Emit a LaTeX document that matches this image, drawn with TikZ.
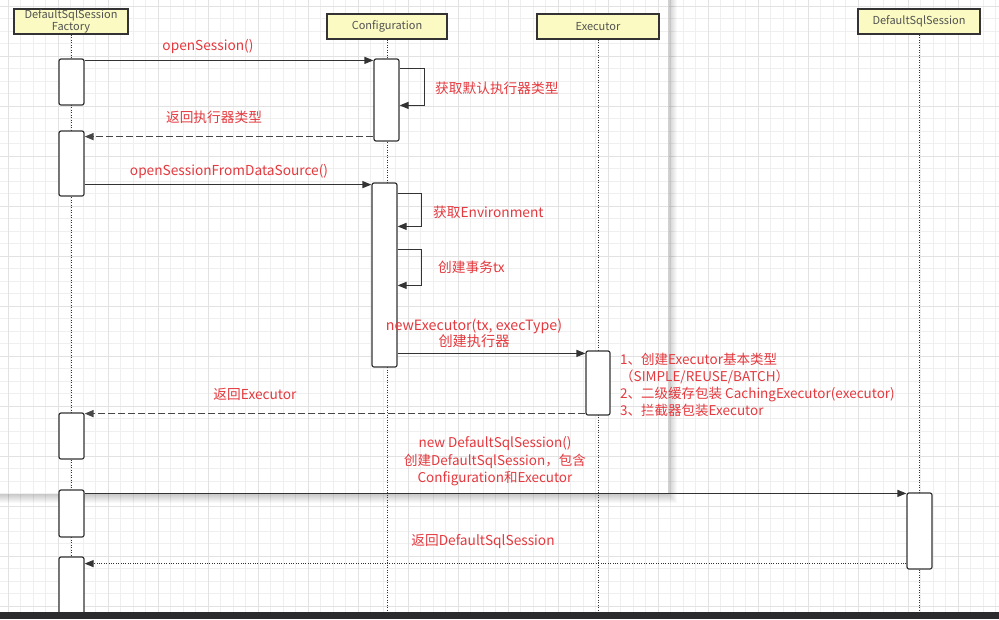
\documentclass[tikz,border=0pt]{standalone}
\usepackage{fontspec}
\setmainfont{Noto Sans CJK SC}
\usetikzlibrary{arrows.meta}
\definecolor{gridminor}{HTML}{EFEFEF}
\definecolor{gridmajor}{HTML}{E2E2E2}
\definecolor{headfill}{HTML}{FAFAC2}
\definecolor{ink}{HTML}{333333}
\definecolor{labelred}{HTML}{E4393E}
\definecolor{barcol}{HTML}{2B2B2D}
\tikzset{
  head/.style={draw=ink, line width=1.4pt, fill=headfill, inner sep=0pt,
    text=ink!85, font=\fontsize{11}{11.5}\selectfont, align=center},
  act/.style={draw=ink, line width=1.2pt, fill=white, rounded corners=2pt,
    minimum width=25pt, inner sep=0pt},
  life/.style={draw=ink, line width=0.9pt, dash pattern=on 1.1pt off 1.4pt},
  tip/.style={-{Triangle[length=9pt,width=7pt]}},
  msg/.style={draw=ink, line width=1.2pt, tip},
  ret/.style={draw=ink!90, line width=1.6pt, dash pattern=on 7pt off 3pt, tip},
  retdot/.style={draw=ink, line width=1.1pt, dash pattern=on 1.1pt off 1.3pt, tip},
  lbl/.style={text=labelred, font=\fontsize{13.7}{16}\selectfont, inner sep=0pt},
}
\begin{document}
\begin{tikzpicture}[x=1pt,y=-1pt]
\useasboundingbox (0,0) rectangle (999,619);
\fill[white] (0,0) rectangle (999,619);

% background grid
\foreach \i in {0,...,80} {
  \draw[gridminor, line width=0.8pt] (8+12.5*\i,0) -- (8+12.5*\i,619);
}
\foreach \i in {0,...,50} {
  \draw[gridminor, line width=0.8pt] (0,6+12.5*\i) -- (999,6+12.5*\i);
}
\foreach \i in {0,...,20} {
  \draw[gridmajor, line width=0.9pt] (8+50*\i,0) -- (8+50*\i,619);
}
\foreach \i in {0,...,12} {
  \draw[gridmajor, line width=0.9pt] (0,6+50*\i) -- (999,6+50*\i);
}

% shadow around the floating panel
\foreach \i in {1,...,9} {
  \fill[black, opacity=0.022] (668,0) rectangle (668+\i,494+\i);
  \fill[black, opacity=0.022] (0,494) rectangle (668,494+\i);
}
\draw[black!18, line width=0.8pt] (668,0) -- (668,494);

% lifeline heads
\node[head, minimum width=114pt, minimum height=25pt] (hf) at (71,21.5)
  {DefaultSqlSession\\[0pt]Factory};
\node[head, minimum width=120pt, minimum height=25pt] (hc) at (387,26.5) {Configuration};
\node[head, minimum width=122pt, minimum height=25pt] (he) at (598,26.5) {Executor};
\node[head, minimum width=122pt, minimum height=25pt] (hd) at (919,21.5) {DefaultSqlSession};

% lifelines
\coordinate (ef) at (71,612);
\coordinate (ec) at (387,612);
\coordinate (ee) at (598,612);
\coordinate (ed) at (919,612);
\draw[life] (hf.south) -- (ef);
\draw[life] (hc.south) -- (ec);
\draw[life] (he.south) -- (ee);
\draw[life] (hd.south) -- (ed);

% activation bars
\node[act, minimum height=46pt] (fa1) at (71.5,82) {};
\node[act, minimum height=65pt] (fa2) at (71.5,163.5) {};
\node[act, minimum height=46pt] (fa3) at (71.5,436) {};
\node[act, minimum height=47pt] (fa4) at (71.5,513.5) {};
\node[act, minimum height=58pt] (fa5) at (71.5,586) {};
\node[act, minimum height=82pt] (ca1) at (386.5,100) {};
\node[act, minimum height=184pt] (ca2) at (384.5,275) {};
\node[act, minimum height=64pt, minimum width=24pt] (ea) at (598,383) {};
\node[act, minimum height=76pt] (da) at (919.5,531) {};

% messages
\draw[msg] ([yshift=-2pt]fa1.north east) -- ([yshift=-2pt]ca1.north west);
\node[lbl] (l1) at (208,46) {openSession()};

\draw[msg] ([yshift=-10pt]ca1.north east) -- ++(25,0) -- ++(0,37) -- ++(-25,0);
\node[lbl, anchor=west] (l2) at (435,88) {获取默认执行器类型};

\draw[ret] ([yshift=5pt]ca1.south west) coordinate (r1) -- (r1 -| fa2.east);
\node[lbl] (l3) at (214,117) {返回执行器类型};

\draw[msg] ([yshift=12pt]fa2.south east) coordinate (m2) -- (m2 -| ca2.west);
\node[lbl] (l4) at (229,171) {openSessionFromDataSource()};

\draw[msg] ([yshift=-11pt]ca2.north east) -- ++(24,0) -- ++(0,33) -- ++(-24,0);
\node[lbl, anchor=west] (l5) at (433,212) {获取Environment};

\draw[msg] ([yshift=-67pt]ca2.north east) -- ++(24,0) -- ++(0,36) -- ++(-24,0);
\node[lbl, anchor=west] (l6) at (438,267) {创建事务tx};

\path ([yshift=-3pt]ea.north west) coordinate (m3);
\draw[msg] (m3 -| ca2.east) -- (m3);
\node[lbl, align=center, font=\fontsize{14.2}{16}\selectfont] (l7) at (474,333)
  {newExecutor(tx, execType)\\创建执行器};

\node[lbl, anchor=north west, align=left, font=\fontsize{13.5}{17}\selectfont]
  (note) at (620,352.5)
  {1、创建Executor基本类型\\（SIMPLE/REUSE/BATCH）\\2、二级缓存包装 CachingExecutor(executor)\\3、拦截器包装Executor};

\draw[ret] ([yshift=2pt]ea.south west) coordinate (r2) -- (r2 -| fa3.east);
\node[lbl] (l8) at (255,394) {返回Executor};

\draw[msg] ([yshift=-4pt]fa4.north east) coordinate (m4) -- (m4 -| da.west);
\node[lbl, align=center, font=\fontsize{13.5}{17.5}\selectfont] (l9) at (495,461.5)
  {new DefaultSqlSession()\\创建DefaultSqlSession，包含\\Configuration和Executor};

\draw[retdot] ([yshift=6pt]da.south west) coordinate (r3) -- (r3 -| fa5.east);
\node[lbl] (l10) at (483,541) {返回DefaultSqlSession};

% bottom bar
\fill[barcol] (0,612) rectangle (999,619);
\end{tikzpicture}
\end{document}
